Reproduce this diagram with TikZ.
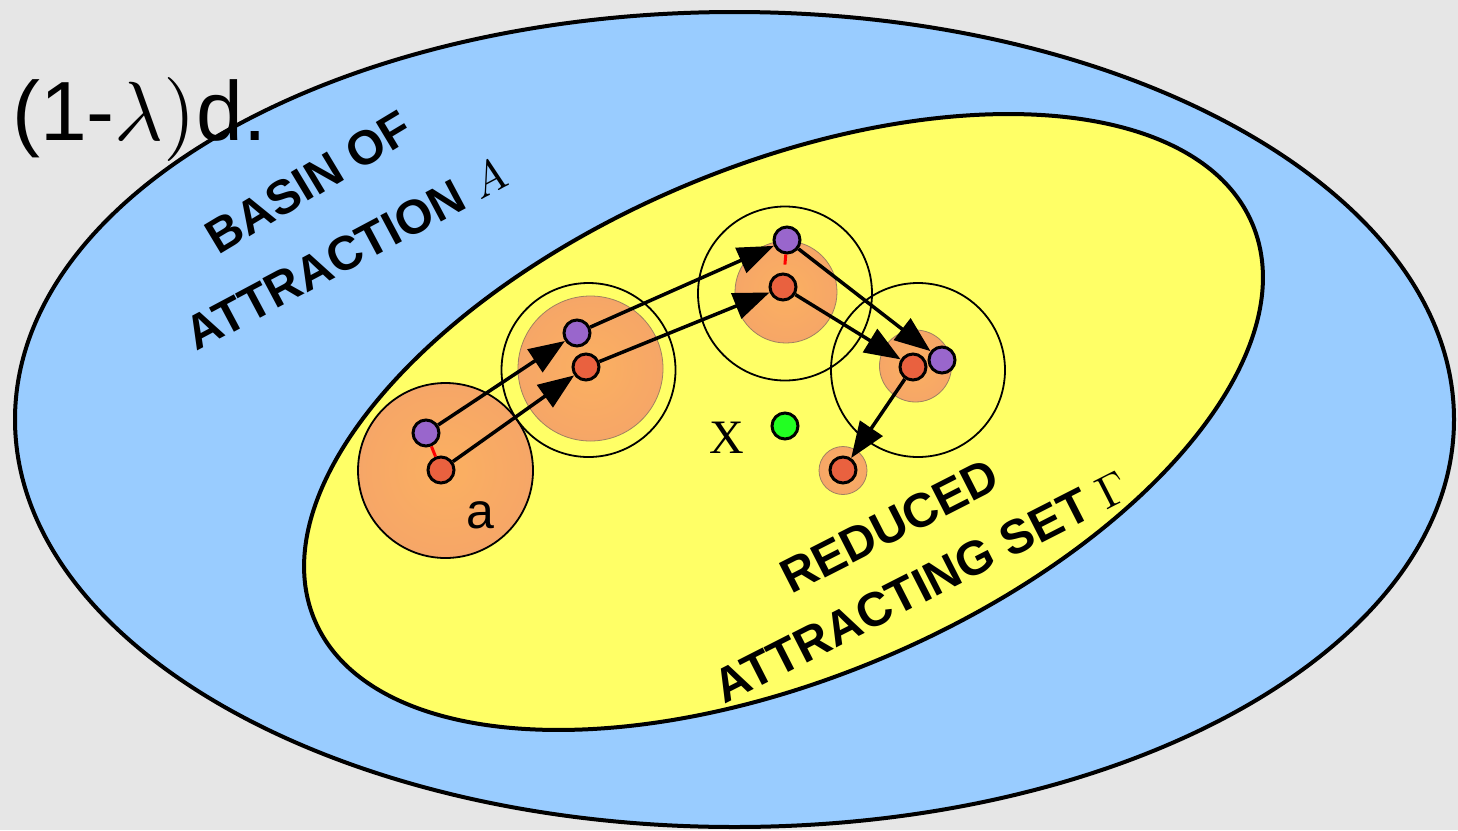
\documentclass[tikz,border=0pt]{standalone}
\usepackage{graphicx}
\usepackage{fontspec}
\setmainfont{Liberation Sans}
\newfontfamily\serifx{Liberation Serif}
\usetikzlibrary{arrows.meta}
\newcommand{\bigmath}[2]{\scalebox{#1}{\fontsize{10}{12}\selectfont$#2$}}
\definecolor{bgc}{HTML}{E6E6E6}
\definecolor{basin}{HTML}{99CCFF}
\definecolor{yel}{HTML}{FFFF66}
\definecolor{purp}{HTML}{9966CC}
\definecolor{redd}{HTML}{E9613F}
\definecolor{gree}{HTML}{22FF22}
\definecolor{orin}{HTML}{FBB061}
\definecolor{orout}{HTML}{F6A667}
\definecolor{oredge}{HTML}{A08060}
\tikzset{
  dot/.style={circle, draw=black, line width=3pt, minimum size=26pt, inner sep=0pt},
  pdot/.style={dot, fill=purp},
  rdot/.style={dot, fill=redd},
  gdot/.style={dot, fill=gree},
  arr/.style={line width=3.5pt, -{Triangle[length=36pt,width=27pt]}},
  redlink/.style={red, line width=3pt},
  outer/.style={draw=black, line width=1.8pt},
  disc/.style={inner color=orin, outer color=orout},
  discedge/.style={draw=oredge, line width=0.8pt},
  bigtext/.style={inner sep=0pt, anchor=base, font=\fontsize{48}{56}\bfseries\selectfont}
}
\begin{document}
\begin{tikzpicture}[x=1pt,y=-1pt]
\fill[bgc] (0,0) rectangle (1458,830);
\useasboundingbox (0,0) rectangle (1458,830);
% basin ellipse
\draw[line width=4pt, fill=basin] (734.5,419.5) ellipse [x radius=719.5pt, y radius=407.5pt];
% reduced attracting set
\draw[line width=4pt, fill=yel, rotate around={22.9:(783.5,422)}] (783.5,422) ellipse [x radius=509pt, y radius=256pt];
% orange discs
\shade[disc] (445.5,470.5) circle [radius=87.5pt];
\shade[disc] (590.5,368.5) circle [radius=72.5pt];
\draw[discedge] (590.5,368.5) circle [radius=72.5pt];
\shade[disc] (786,292) circle [radius=51pt];
\draw[discedge] (786,292) circle [radius=51pt];
\shade[disc] (915.5,366) circle [radius=36pt];
\draw[discedge] (915.5,366) circle [radius=36pt];
\shade[disc] (843,470.5) circle [radius=24pt];
\draw[discedge] (843,470.5) circle [radius=24pt];
% outer circles
\draw[outer] (445.5,470.5) circle [radius=87.5pt];
\draw[outer] (588.5,370) circle [radius=87pt];
\draw[outer] (785,293.5) circle [radius=87pt];
\draw[outer] (918,370) circle [radius=87pt];
% texts
\node[anchor=base west, inner sep=0pt, font=\fontsize{84}{90}\selectfont] (lab) at (12,140) {(1-\bigmath{8.4}{\lambda}\bigmath{8.4}{)}d.};
\node[bigtext, rotate=31] (b1) at (317,196) {BASIN OF};
\node[bigtext, rotate=28] (b2) at (354,268) {ATTRACTION \bigmath{4.6}{A}};
\node[bigtext, rotate=27] (r1t) at (897,541) {REDUCED};
\node[bigtext, rotate=27] (r2t) at (928,601) {ATTRACTING SET \bigmath{4.6}{\Gamma}};
\node[anchor=base west, inner sep=0pt, font=\fontsize{50}{60}\selectfont] (la) at (466,528) {a};
\node[anchor=base west, inner sep=0pt, font=\serifx\fontsize{48}{58}\selectfont] (lx) at (709,453) {X};
% dots
\node[pdot] (p1) at (426,433) {};
\node[rdot] (r1) at (441,470) {};
\node[pdot] (p2) at (577,333) {};
\node[rdot] (r2) at (586,367) {};
\node[pdot] (p3) at (787,240) {};
\node[rdot] (r3) at (783,287) {};
\node[pdot] (p4) at (942,360) {};
\node[rdot] (r4) at (913,367) {};
\node[rdot] (r5) at (843,470) {};
\node[gdot] (g) at (785,426) {};
% red links
\draw[redlink] (p1) -- (r1);
\draw[redlink, shorten >=8pt] (p3) -- (r3);
% arrows
\draw[arr] (p1) -- (p2);
\draw[arr] (r1) -- (r2);
\draw[arr] (p2) -- (p3);
\draw[arr] (r2) -- (r3);
\draw[arr] (p3) -- (p4);
\draw[arr] (r3) -- (r4);
\draw[arr] (r4) -- (r5);
\end{tikzpicture}
\end{document}
